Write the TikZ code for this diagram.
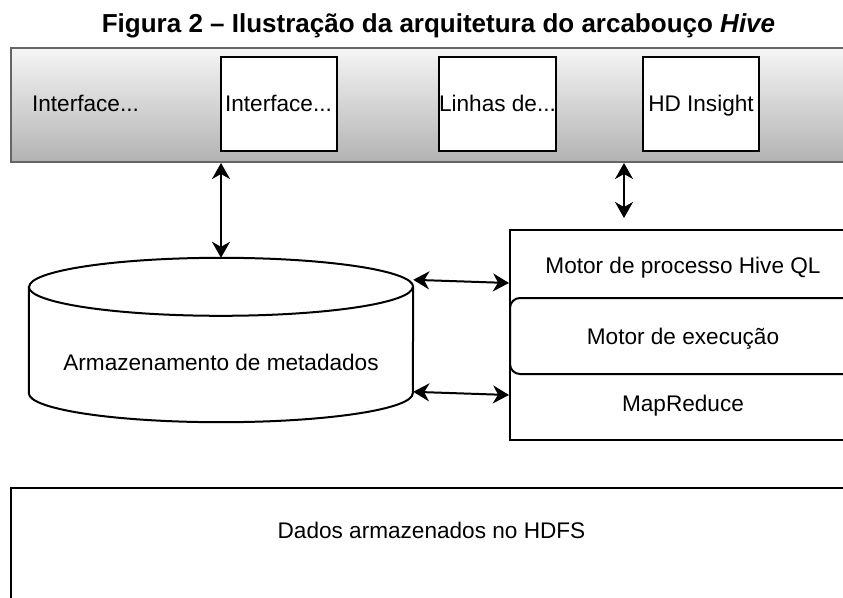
\documentclass[tikz,border=0pt]{standalone}
\usepackage{fontspec}
\setmainfont{Liberation Sans}
\usetikzlibrary{arrows.meta,calc}
\definecolor{barfill}{HTML}{F5F5F5}
\definecolor{bargrad}{HTML}{B3B3B3}
\definecolor{barline}{HTML}{666666}

\begin{document}
\begin{tikzpicture}[x=1pt, y=-1pt, font=\fontsize{22.6}{27}\selectfont,
  box/.style={draw=black, line width=2pt, fill=white, inner sep=0pt, anchor=north west},
  slot/.style={draw=black, line width=2pt, fill=white, inner sep=0pt,
    minimum width=116pt, minimum height=94pt, text height=17pt, text depth=3pt},
  lbl/.style={anchor=base, inner sep=0pt},
  cyl/.style={draw=black, line width=2pt, fill=white},
  ar/.style={{Stealth[length=16pt, width=18pt, inset=5pt]}-{Stealth[length=16pt, width=18pt, inset=5pt]},
    line width=2pt}]
\useasboundingbox (0,0) rectangle (843,597);
\clip (0,0) rectangle (843,597);
\node[lbl, font=\fontsize{26}{30}\selectfont\bfseries] (title) at (438.5,32)
  {Figura 2 – Ilustração da arquitetura do arcabouço \textit{Hive}};
% interface bar
\node[box, draw=barline, top color=barfill, bottom color=bargrad,
  minimum width=841pt, minimum height=114pt] (bar) at (10,47) {};
\node[lbl] (ui) at (85.5,111) {Interface...};
\node[slot] (cli) at (278.5,104) {Interface...};
\node[slot] (lines) at (497.5,104) {Linhas de...};
\node[slot] (hdi) at (701,104) {HD Insight};
% metastore
\node[minimum width=384pt, minimum height=164pt, inner sep=0pt] (meta) at (221,340) {};
\draw[cyl] ($(meta.north west)+(0,29)$) -- ($(meta.south west)+(0,-29)$)
  arc[start angle=180, end angle=0, x radius=192, y radius=29]
  -- ($(meta.north east)+(0,29)$)
  arc[start angle=0, end angle=-180, x radius=192, y radius=29] -- cycle;
\draw[cyl] ($(meta.north west)+(0,29)$) arc[start angle=180, end angle=0, x radius=192, y radius=29];
\node[lbl] (metatext) at ($(meta.center)+(0,30)$) {Armazenamento de metadados};
% engine
\node[box, minimum width=346pt, minimum height=210pt] (engine) at (509,229) {};
\node[box, rounded corners=10pt, minimum width=346pt, minimum height=76pt] (exec) at (509,297) {};
\node[lbl] (ql) at ($(engine.north)+(0,44)$) {Motor de processo Hive QL};
\node[lbl] (run) at ($(exec.center)+(0,8)$) {Motor de execução};
\node[lbl] (mr) at ($(exec.south)+(0,36)$) {MapReduce};
% storage
\node[box, minimum width=841pt, minimum height=140pt] (hdfs) at (10,487) {};
\node[lbl] (hdfstext) at ($(hdfs.north)+(0,51)$) {Dados armazenados no HDFS};
% connectors
\coordinate (qlin) at (624,218);
\draw[ar] (bar.south -| meta.north) -- (meta.north);
\draw[ar] (bar.south -| qlin) -- (qlin);
\foreach \a/\b in {22/54,134/166}
  \draw[ar] ($(meta.north east)+(0,\a)$) -- ($(engine.north west)+(0,\b)$);
\end{tikzpicture}
\end{document}
